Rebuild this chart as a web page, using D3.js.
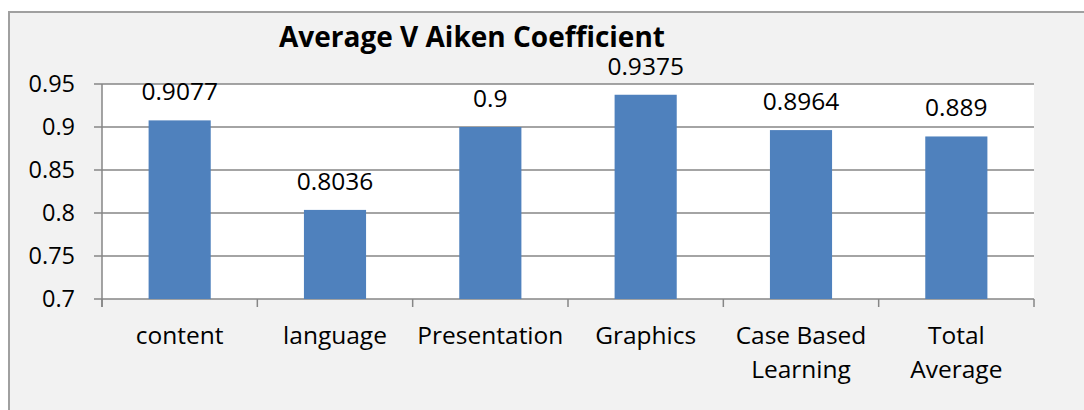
<!DOCTYPE html>
<html>
<head>
<meta charset="utf-8">
<script src="https://cdn.jsdelivr.net/npm/d3@7"></script>
<style>
  body { margin: 0; background: #fff; }
  svg text { font-family: "Open Sans", sans-serif; fill: #000; }
</style>
</head>
<body>
<svg id="chart" width="1084" height="410"></svg>
<script>
// data
var categories = ["content", "language", "Presentation", "Graphics", "Case Based|Learning", "Total|Average"];
var values = [0.9077, 0.8036, 0.9, 0.9375, 0.8964, 0.889];
var valueLabels = ["0.9077", "0.8036", "0.9", "0.9375", "0.8964", "0.889"];
var yTicks = [0.7, 0.75, 0.8, 0.85, 0.9, 0.95];
var chartTitle = "Average V Aiken Coefficient";

var svg = d3.select("#chart"),
    plotL = 102, plotR = 1034, plotT = 84, plotB = 299;

// outer chart box
svg.append("rect")
    .attr("x", 9).attr("y", 12)
    .attr("width", 1084).attr("height", 420)
    .attr("fill", "#f2f2f2")
    .attr("stroke", "#a0a0a0")
    .attr("stroke-width", 2);

svg.append("rect")
    .attr("x", plotL).attr("y", plotT)
    .attr("width", plotR - plotL).attr("height", plotB - plotT)
    .attr("fill", "#fff");

var x = d3.scaleBand().domain(categories).range([plotL, plotR]).paddingInner(0.6).paddingOuter(0.3);
var xb = d3.scaleBand().domain(categories).range([plotL, plotR]);
var y = d3.scaleLinear().domain([0.7, 0.95]).range([plotB, plotT]);

// gridlines
svg.selectAll(".grid")
    .data(yTicks)
    .enter()
    .append("line")
        .attr("x1", plotL - 8).attr("x2", plotR)
        .attr("y1", function (d) { return y(d) }).attr("y2", function (d) { return y(d) })
        .attr("stroke", "#868686")
        .attr("stroke-width", 1.5);

// y axis line + labels
svg.append("line")
    .attr("x1", plotL).attr("x2", plotL)
    .attr("y1", plotT).attr("y2", plotB + 8)
    .attr("stroke", "#868686").attr("stroke-width", 1.5);

svg.selectAll(".ylab")
    .data(yTicks)
    .enter()
    .append("text")
        .attr("x", plotL - 27)
        .attr("y", function (d) { return y(d) + 8 })
        .attr("text-anchor", "end")
        .style("font-size", "23.5px")
        .text(function (d) { return d });

// x category boundary ticks
svg.selectAll(".xtick")
    .data(categories.concat(["end"]))
    .enter()
    .append("line")
        .attr("x1", function (d, i) { return plotL + i * xb.bandwidth() })
        .attr("x2", function (d, i) { return plotL + i * xb.bandwidth() })
        .attr("y1", plotB).attr("y2", plotB + 8)
        .attr("stroke", "#868686").attr("stroke-width", 1.5);

// bars
svg.selectAll(".bar")
    .data(values)
    .enter()
    .append("rect")
        .attr("x", function (d, i) { return x(categories[i]) })
        .attr("y", function (d) { return y(d) })
        .attr("width", x.bandwidth())
        .attr("height", function (d) { return plotB - y(d) })
        .attr("fill", "#4f81bd");

// value labels
svg.selectAll(".vlab")
    .data(values)
    .enter()
    .append("text")
        .attr("x", function (d, i) { return xb(categories[i]) + xb.bandwidth() / 2 })
        .attr("y", function (d) { return y(d) - 20 })
        .attr("text-anchor", "middle")
        .style("font-size", "24.5px")
        .text(function (d, i) { return valueLabels[i] });

// category labels (split on |)
svg.selectAll(".clab")
    .data(categories)
    .enter()
    .append("text")
        .attr("text-anchor", "middle")
        .style("font-size", "24.5px")
        .each(function (d) {
            var cx = xb(d) + xb.bandwidth() / 2;
            d3.select(this).selectAll("tspan")
                .data(d.split("|"))
                .enter()
                .append("tspan")
                    .attr("x", cx)
                    .attr("y", function (t, j) { return 344 + j * 34 })
                    .text(function (t) { return t });
        });

svg.append("text")
    .attr("x", 472).attr("y", 47)
    .attr("text-anchor", "middle")
    .style("font-size", "28px")
    .style("font-weight", "bold")
    .text(chartTitle);
</script>
</body>
</html>
